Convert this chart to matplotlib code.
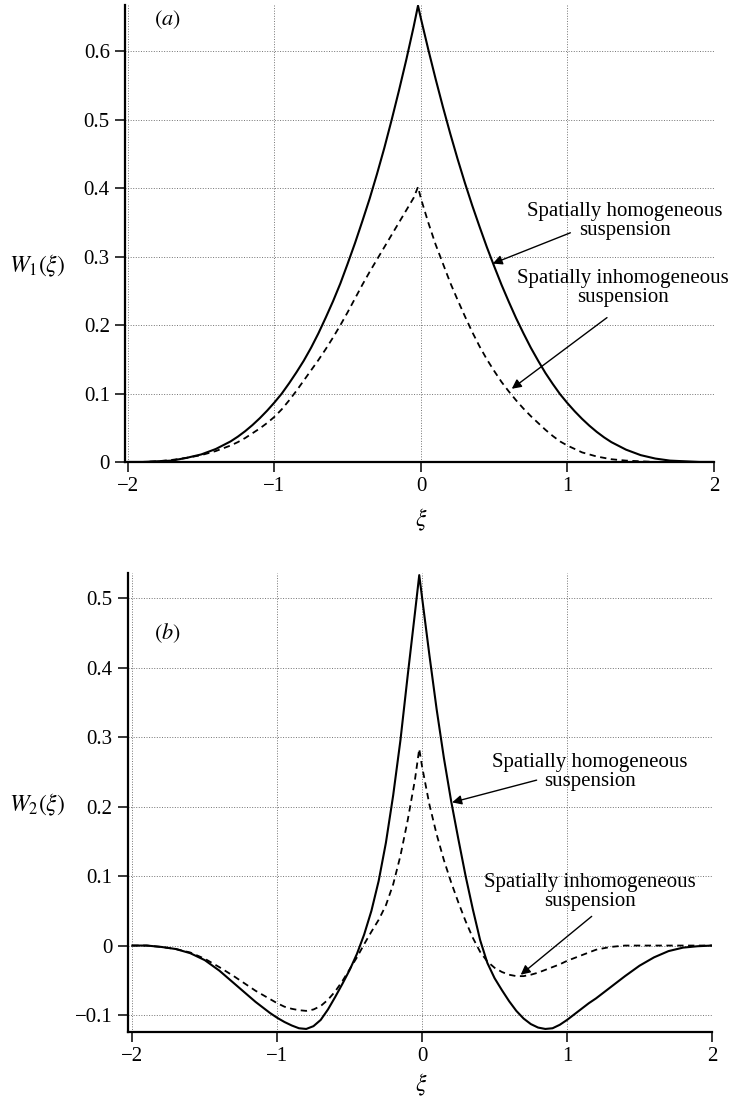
import matplotlib
matplotlib.use('Agg')
import matplotlib.pyplot as plt

plt.rcParams['font.family'] = 'serif'
plt.rcParams['font.serif'] = ['Liberation Serif', 'DejaVu Serif']
plt.rcParams['mathtext.fontset'] = 'stix'

# common abscissa (the cusp sits a little left of zero in the original)
xi = [-2.0, -1.9, -1.8, -1.7, -1.6, -1.5, -1.4, -1.3,
      -1.25, -1.2, -1.15, -1.1, -1.05, -1.0, -0.95, -0.9, -0.85, -0.8,
      -0.75, -0.7, -0.65, -0.6, -0.55, -0.5, -0.45, -0.4, -0.35, -0.3,
      -0.25, -0.2, -0.15, -0.1, -0.05, -0.02,
      0.0, 0.05, 0.1, 0.15, 0.2, 0.25, 0.3, 0.35, 0.4, 0.45,
      0.5, 0.55, 0.6, 0.65, 0.7, 0.75, 0.8, 0.85, 0.9, 0.95,
      1.0, 1.05, 1.1, 1.15, 1.2, 1.25,
      1.3, 1.4, 1.5, 1.6, 1.7, 1.8, 1.9, 2.0]

# panel (a)
w1_homog = [0.000, 0.000, 0.001, 0.002, 0.006, 0.011, 0.019, 0.030,
            0.037, 0.045, 0.054, 0.064, 0.075, 0.087, 0.100, 0.115, 0.131, 0.148,
            0.167, 0.188, 0.211, 0.235, 0.261, 0.290, 0.320, 0.352, 0.385, 0.421,
            0.459, 0.500, 0.543, 0.588, 0.636, 0.667,
            0.648, 0.603, 0.560, 0.519, 0.480, 0.443, 0.408, 0.375, 0.344, 0.314,
            0.286, 0.259, 0.234, 0.210, 0.188, 0.167, 0.148, 0.130, 0.114, 0.099,
            0.086, 0.074, 0.063, 0.053, 0.044, 0.036,
            0.029, 0.018, 0.010, 0.005, 0.002, 0.001, 0.000, 0.000]
w1_inhomog = [0.000, 0.000, 0.001, 0.003, 0.006, 0.010, 0.016, 0.024,
              0.029, 0.035, 0.042, 0.049, 0.057, 0.066, 0.077, 0.090, 0.104, 0.119,
              0.134, 0.149, 0.165, 0.182, 0.200, 0.219, 0.239, 0.259, 0.278, 0.296,
              0.314, 0.332, 0.350, 0.368, 0.386, 0.402,
              0.385, 0.350, 0.318, 0.290, 0.262, 0.237, 0.213, 0.190, 0.169, 0.150,
              0.133, 0.117, 0.103, 0.090, 0.078, 0.067, 0.057, 0.047, 0.038, 0.030,
              0.024, 0.019, 0.014, 0.011, 0.008, 0.006,
              0.004, 0.002, 0.001, 0.000, 0.000, 0.000, 0.000, 0.000]

# panel (b)
w2_homog = [0.000, 0.000, -0.002, -0.005, -0.011, -0.021, -0.036, -0.054,
            -0.063, -0.072, -0.081, -0.089, -0.097, -0.104, -0.110, -0.115, -0.119, -0.120,
            -0.116, -0.107, -0.092, -0.074, -0.055, -0.035, -0.012, 0.016, 0.050, 0.093,
            0.148, 0.216, 0.295, 0.388, 0.478, 0.533,
            0.500, 0.418, 0.340, 0.270, 0.208, 0.153, 0.100, 0.052, 0.008, -0.025,
            -0.047, -0.064, -0.080, -0.094, -0.105, -0.113, -0.118, -0.120, -0.119, -0.114,
            -0.107, -0.099, -0.091, -0.083, -0.076, -0.068,
            -0.060, -0.044, -0.029, -0.017, -0.008, -0.003, -0.001, 0.000]
w2_inhomog = [0.000, 0.000, -0.002, -0.005, -0.010, -0.019, -0.031, -0.044,
              -0.051, -0.058, -0.065, -0.071, -0.077, -0.083, -0.088, -0.091, -0.093, -0.094,
              -0.092, -0.087, -0.078, -0.066, -0.051, -0.034, -0.017, 0.002, 0.020, 0.037,
              0.058, 0.088, 0.129, 0.180, 0.238, 0.283,
              0.257, 0.203, 0.160, 0.123, 0.091, 0.062, 0.035, 0.011, -0.009, -0.023,
              -0.032, -0.038, -0.042, -0.044, -0.044, -0.042, -0.039, -0.035, -0.031, -0.027,
              -0.022, -0.018, -0.014, -0.010, -0.006, -0.004,
              -0.002, 0.000, 0.000, 0.000, 0.000, 0.000, 0.000, 0.000]

x_ticks = [-2, -1, 0, 1, 2]
y_ticks_a = [0, 0.1, 0.2, 0.3, 0.4, 0.5, 0.6]
y_ticks_b = [-0.1, 0, 0.1, 0.2, 0.3, 0.4, 0.5]
y_labels_a = ['0', '0.1', '0.2', '0.3', '0.4', '0.5', '0.6']
y_labels_b = ['\u22120.1', '0', '0.1', '0.2', '0.3', '0.4', '0.5']
x_labels = ['\u22122', '\u22121', '0', '1', '2']

fs = 15


def style(ax, yt, yl):
    ax.set_xticks(x_ticks)
    ax.set_xticklabels(x_labels)
    ax.set_yticks(yt)
    ax.set_yticklabels(yl)
    ax.tick_params(direction='out', length=7, width=1.1, labelsize=fs, pad=4)
    ax.spines['top'].set_visible(False)
    ax.spines['right'].set_visible(False)
    ax.spines['left'].set_linewidth(1.6)
    ax.spines['bottom'].set_linewidth(1.6)
    ax.grid(True, color='0.45', linestyle=':', linewidth=0.7)
    ax.set_axisbelow(True)


def arrow(ax, head, tail):
    ax.annotate('', xy=head, xytext=tail,
                arrowprops=dict(arrowstyle='-|>', color='k', lw=1.0,
                                mutation_scale=14, shrinkA=0, shrinkB=0))


fig = plt.figure(figsize=(7.55, 11.06), dpi=100)

# ----- panel (a)
ax1 = fig.add_axes([0.1656, 0.5823, 0.780, 0.4132])
ax1.plot(xi, w1_homog, color='k', lw=1.5)
ax1.plot(xi, w1_inhomog, color='k', lw=1.3, linestyle=(0, (3.5, 2.5)))
ax1.set_xlim(-2.02, 2.0)
ax1.set_ylim(0, 0.668)
style(ax1, y_ticks_a, y_labels_a)
ax1.text(-1.73, 0.646, '$(a)$', fontsize=fs + 1, ha='center', va='center')
ax1.text(1.39, 0.352, 'Spatially homogeneous\nsuspension', fontsize=fs,
         ha='center', va='center', linespacing=1.0)
arrow(ax1, (0.49, 0.290), (1.02, 0.335))
ax1.text(1.38, 0.254, 'Spatially inhomogeneous\nsuspension', fontsize=fs,
         ha='center', va='center', linespacing=1.0)
arrow(ax1, (0.62, 0.107), (1.27, 0.211))

# ----- panel (b)
ax2 = fig.add_axes([0.1695, 0.0669, 0.7735, 0.415])
ax2.plot(xi, w2_homog, color='k', lw=1.5)
ax2.plot(xi, w2_inhomog, color='k', lw=1.3, linestyle=(0, (3.5, 2.5)))
ax2.set_xlim(-2.03, 2.0)
ax2.set_ylim(-0.1244, 0.536)
style(ax2, y_ticks_b, y_labels_b)
ax2.text(-1.76, 0.449, '$(b)$', fontsize=fs + 1, ha='center', va='center')
ax2.text(1.16, 0.250, 'Spatially homogeneous\nsuspension', fontsize=fs,
         ha='center', va='center', linespacing=1.0)
arrow(ax2, (0.207, 0.206), (0.79, 0.238))
ax2.text(1.16, 0.0775, 'Spatially inhomogeneous\nsuspension', fontsize=fs,
         ha='center', va='center', linespacing=1.0)
arrow(ax2, (0.68, -0.042), (1.17, 0.042))

# axis titles placed as in the print
fig.text(0.049, 0.760, r'$W_1(\xi)$', fontsize=fs + 2, ha='center', va='center')
fig.text(0.049, 0.272, r'$W_2(\xi)$', fontsize=fs + 2, ha='center', va='center')
fig.text(0.558, 0.530, r'$\xi$', fontsize=fs + 2, ha='center', va='center')
fig.text(0.558, 0.019, r'$\xi$', fontsize=fs + 2, ha='center', va='center')

fig.savefig('out.png', dpi=100)
